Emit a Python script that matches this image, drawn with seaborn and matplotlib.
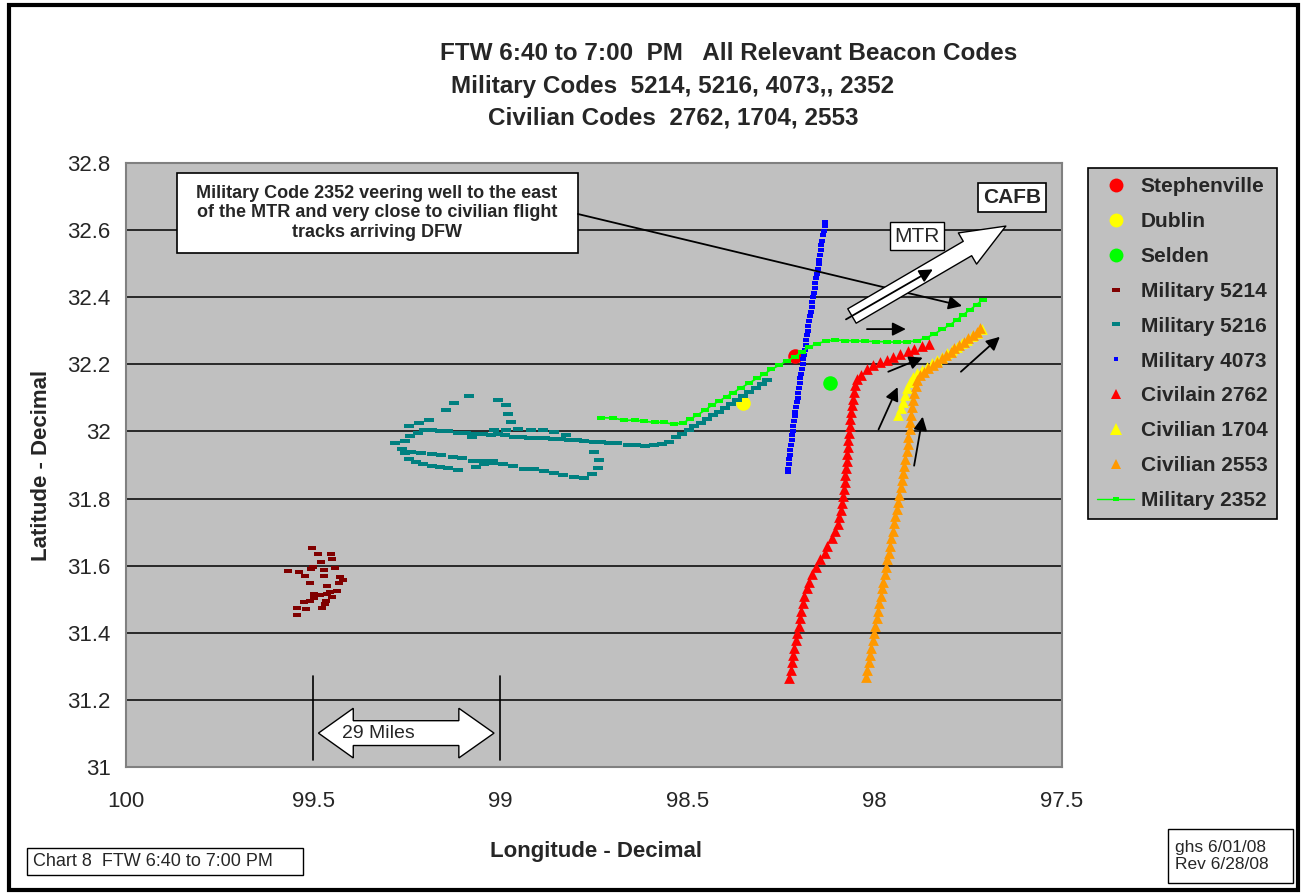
import matplotlib
matplotlib.use("Agg")
import matplotlib.pyplot as plt
import seaborn as sns
from matplotlib.markers import MarkerStyle
from matplotlib.lines import Line2D
from matplotlib.patches import Rectangle, Polygon

sns.set_style("white")
plt.rcParams["font.family"] = ["Liberation Sans", "DejaVu Sans"]

# ---- data (longitude W, latitude N) ----
town_names = ["Stephenville", "Dublin", "Selden"]
town_lon = [98.213, 98.352, 98.120]
town_lat = [32.224, 32.085, 32.144]

mil5214_lon = [99.504, 99.486, 99.453, 99.450, 99.478, 99.501, 99.505, 99.441, 99.567, 99.537, 99.471,
               99.522, 99.471, 99.429, 99.420, 99.509, 99.431, 99.464, 99.436, 99.455, 99.498, 99.482,
               99.464, 99.451, 99.498, 99.467, 99.509, 99.525, 99.468, 99.477, 99.542, 99.518, 99.543]
mil5214_lat = [31.652, 31.635, 31.634, 31.620, 31.610, 31.597, 31.589, 31.593, 31.583, 31.582, 31.587,
               31.569, 31.569, 31.566, 31.558, 31.548, 31.548, 31.539, 31.525, 31.522, 31.517, 31.514,
               31.516, 31.506, 31.503, 31.495, 31.496, 31.491, 31.486, 31.473, 31.473, 31.471, 31.454]

mil5216_lon = [98.289, 98.302, 98.318, 98.336, 98.352, 98.368, 98.384, 98.399, 98.416, 98.432, 98.449,
               98.465, 98.483, 98.497, 98.514, 98.531, 98.549, 98.569, 98.591, 98.613, 98.638, 98.660,
               98.688, 98.709, 98.732, 98.751, 98.776, 98.795, 98.817, 98.838, 98.859, 98.881, 98.902,
               98.924, 98.942, 98.964, 98.988, 99.006, 99.026, 99.077, 99.221, 99.241, 99.256, 99.281,
               99.264, 99.255, 99.244, 99.225, 99.207, 99.183, 99.161, 99.141, 99.114, 99.066, 99.045,
               99.021, 98.992, 98.967, 98.936, 98.911, 98.884, 98.858, 98.834, 98.804, 98.778, 98.755,
               98.739, 98.736, 98.749, 99.239, 99.211, 99.183, 99.158, 99.127, 99.102, 99.072, 99.047,
               99.019, 98.824, 98.856, 98.887, 98.917, 98.952, 98.985, 99.018, 99.047, 99.071, 99.093,
               99.114, 99.139, 99.161, 99.183, 99.205, 99.245, 99.218, 99.191, 99.145, 99.125, 99.084,
               99.006, 98.985, 98.979, 98.973]
mil5216_lat = [32.154, 32.141, 32.130, 32.118, 32.107, 32.093, 32.082, 32.069, 32.058, 32.048, 32.036,
               32.026, 32.017, 32.004, 31.993, 31.983, 31.970, 31.962, 31.959, 31.957, 31.960, 31.960,
               31.965, 31.967, 31.969, 31.969, 31.972, 31.975, 31.974, 31.978, 31.977, 31.980, 31.980,
               31.981, 31.984, 31.983, 31.989, 31.992, 31.990, 31.983, 31.996, 31.987, 31.973, 31.965,
               31.947, 31.935, 31.918, 31.908, 31.902, 31.897, 31.894, 31.892, 31.886, 31.893, 31.903,
               31.907, 31.902, 31.897, 31.889, 31.888, 31.882, 31.876, 31.871, 31.864, 31.862, 31.872,
               31.890, 31.915, 31.938, 31.940, 31.937, 31.934, 31.929, 31.925, 31.921, 31.913, 31.912,
               31.913, 31.989, 31.998, 32.004, 32.005, 32.008, 32.005, 32.004, 31.993, 31.992, 31.996,
               31.996, 32.000, 32.001, 32.005, 32.004, 32.016, 32.025, 32.035, 32.065, 32.086, 32.106,
               32.093, 32.078, 32.053, 32.028]

mil4073_lon = [98.132, 98.134, 98.136, 98.139, 98.140, 98.143, 98.144, 98.146, 98.149, 98.150, 98.153,
               98.155, 98.156, 98.159, 98.161, 98.162, 98.165, 98.167, 98.168, 98.171, 98.174, 98.175,
               98.178, 98.179, 98.182, 98.183, 98.185, 98.186, 98.189, 98.192, 98.193, 98.195, 98.197,
               98.199, 98.200, 98.203, 98.205, 98.206, 98.209, 98.210, 98.213, 98.214, 98.217, 98.218,
               98.219, 98.222, 98.222, 98.224, 98.226, 98.226, 98.229, 98.230, 98.232, 98.233]
mil4073_lat = [32.625, 32.611, 32.598, 32.584, 32.569, 32.556, 32.540, 32.527, 32.512, 32.499, 32.484,
               32.470, 32.456, 32.441, 32.428, 32.414, 32.400, 32.385, 32.371, 32.357, 32.343, 32.329,
               32.315, 32.300, 32.286, 32.272, 32.258, 32.243, 32.229, 32.215, 32.201, 32.187, 32.172,
               32.158, 32.144, 32.130, 32.116, 32.101, 32.087, 32.073, 32.059, 32.045, 32.030, 32.016,
               32.002, 31.988, 31.974, 31.960, 31.945, 31.931, 31.917, 31.903, 31.889, 31.880]

civ2762_lon = [98.229, 98.224, 98.220, 98.218, 98.215, 98.211, 98.207, 98.203, 98.200, 98.196, 98.193,
               98.189, 98.182, 98.175, 98.169, 98.157, 98.146, 98.133, 98.127, 98.115, 98.106, 98.099,
               98.095, 98.090, 98.087, 98.084, 98.082, 98.080, 98.079, 98.077, 98.075, 98.073, 98.072,
               98.071, 98.069, 98.067, 98.065, 98.064, 98.061, 98.058, 98.056, 98.052, 98.047, 98.037,
               98.022, 98.004, 97.986, 97.968, 97.951, 97.932, 97.912, 97.895, 97.875, 97.855]
civ2762_lat = [31.265, 31.289, 31.314, 31.334, 31.356, 31.379, 31.400, 31.420, 31.443, 31.465, 31.488,
               31.510, 31.533, 31.552, 31.574, 31.597, 31.619, 31.639, 31.660, 31.682, 31.704, 31.723,
               31.744, 31.766, 31.786, 31.808, 31.828, 31.849, 31.869, 31.890, 31.912, 31.932, 31.953,
               31.975, 31.995, 32.016, 32.036, 32.058, 32.078, 32.098, 32.119, 32.139, 32.155, 32.168,
               32.185, 32.197, 32.206, 32.213, 32.221, 32.230, 32.240, 32.246, 32.255, 32.261]

civ1704_lon = [97.937, 97.931, 97.926, 97.919, 97.913, 97.906, 97.897, 97.887, 97.875, 97.861, 97.848,
               97.835, 97.821, 97.808, 97.795, 97.781, 97.768, 97.755, 97.741, 97.728, 97.715]
civ1704_lat = [32.049, 32.069, 32.089, 32.109, 32.129, 32.148, 32.163, 32.173, 32.183, 32.193, 32.203,
               32.213, 32.223, 32.233, 32.243, 32.253, 32.263, 32.273, 32.284, 32.294, 32.305]

civ2553_lon = [98.024, 98.020, 98.016, 98.013, 98.009, 98.006, 98.002, 97.999, 97.995, 97.992, 97.988,
               97.984, 97.981, 97.977, 97.974, 97.970, 97.967, 97.963, 97.959, 97.956, 97.952, 97.949,
               97.945, 97.942, 97.938, 97.935, 97.931, 97.927, 97.924, 97.921, 97.919, 97.915, 97.912,
               97.910, 97.907, 97.905, 97.903, 97.900, 97.897, 97.895, 97.891, 97.887, 97.879, 97.869,
               97.857, 97.845, 97.833, 97.821, 97.810, 97.797, 97.788, 97.774, 97.762, 97.750, 97.739,
               97.728, 97.719]
civ2553_lat = [31.267, 31.289, 31.314, 31.334, 31.356, 31.379, 31.400, 31.420, 31.443, 31.465, 31.488,
               31.510, 31.533, 31.552, 31.574, 31.597, 31.619, 31.639, 31.660, 31.682, 31.704, 31.726,
               31.748, 31.768, 31.790, 31.812, 31.834, 31.855, 31.875, 31.897, 31.919, 31.941, 31.963,
               31.984, 32.006, 32.028, 32.050, 32.072, 32.094, 32.116, 32.136, 32.153, 32.167, 32.178,
               32.188, 32.198, 32.208, 32.218, 32.228, 32.238, 32.248, 32.258, 32.268, 32.278, 32.287,
               32.297, 32.307]

mil2352_lon = [98.731, 98.698, 98.669, 98.641, 98.616, 98.587, 98.563, 98.536, 98.513, 98.494, 98.474,
               98.454, 98.435, 98.415, 98.396, 98.378, 98.357, 98.336, 98.315, 98.297, 98.276, 98.256,
               98.235, 98.213, 98.195, 98.175, 98.154, 98.130, 98.107, 98.080, 98.053, 98.026, 97.997,
               97.968, 97.942, 97.915, 97.888, 97.864, 97.842, 97.820, 97.799, 97.781, 97.764, 97.746,
               97.728, 97.712]
mil2352_lat = [32.041, 32.040, 32.033, 32.034, 32.030, 32.027, 32.027, 32.021, 32.026, 32.036, 32.049,
               32.063, 32.078, 32.091, 32.104, 32.116, 32.130, 32.144, 32.158, 32.170, 32.185, 32.197,
               32.210, 32.223, 32.237, 32.251, 32.262, 32.269, 32.273, 32.271, 32.270, 32.269, 32.268,
               32.267, 32.266, 32.267, 32.270, 32.278, 32.290, 32.304, 32.318, 32.332, 32.348, 32.362,
               32.378, 32.392]

x_ticks = [100, 99.5, 99, 98.5, 98, 97.5]
x_labels = ["100", "99.5", "99", "98.5", "98", "97.5"]
y_ticks = [31, 31.2, 31.4, 31.6, 31.8, 32, 32.2, 32.4, 32.6, 32.8]
y_labels = ["31", "31.2", "31.4", "31.6", "31.8", "32", "32.2", "32.4", "32.6", "32.8"]

# ---- figure ----
W, H = 1303, 893
fig = plt.figure(figsize=(W / 100, H / 100), dpi=100)
ax = fig.add_axes([126 / W, 1 - 767 / H, (1062 - 126) / W, (767 - 163) / H])
ax.set_facecolor("#C0C0C0")

dash = MarkerStyle([(-1, -0.45), (1, -0.45), (1, 0.45), (-1, 0.45), (-1, -0.45)])
dot = MarkerStyle([(-1, -0.75), (1, -0.75), (1, 0.75), (-1, 0.75), (-1, -0.75)])

town_colors = ["#FF0000", "#FFFF00", "#00FF00"]
for lon, lat, c in zip(town_lon, town_lat, town_colors):
    sns.scatterplot(x=[lon], y=[lat], ax=ax, color=c, s=110, marker="o", linewidth=0, zorder=3)

sns.scatterplot(x=mil5214_lon, y=mil5214_lat, ax=ax, color="#800000", marker=dash, s=40, linewidth=0, zorder=3)
sns.scatterplot(x=mil5216_lon, y=mil5216_lat, ax=ax, color="#008080", marker=dash, s=42, linewidth=0, zorder=3)
sns.scatterplot(x=mil4073_lon, y=mil4073_lat, ax=ax, color="#0000FF", marker=dot, s=20, linewidth=0, zorder=3)
sns.scatterplot(x=civ2762_lon, y=civ2762_lat, ax=ax, color="#FF0000", marker="^", s=60, linewidth=0, zorder=3)
sns.scatterplot(x=civ1704_lon, y=civ1704_lat, ax=ax, color="#FFFF00", marker="^", s=60, linewidth=0, zorder=3)
sns.scatterplot(x=civ2553_lon, y=civ2553_lat, ax=ax, color="#FF9900", marker="^", s=60, linewidth=0, zorder=3)
sns.lineplot(x=mil2352_lon, y=mil2352_lat, ax=ax, sort=False, estimator=None, color="#00FF00", lw=1.2,
             marker=dash, markersize=6, markeredgewidth=0, zorder=3)

ax.set_xlim(100, 97.5)
ax.set_ylim(31, 32.8)
ax.set_xticks(x_ticks, x_labels)
ax.set_yticks(y_ticks, y_labels)
ax.set_xlabel("")
ax.set_ylabel("")
ax.yaxis.grid(True, color="black", lw=1.1)
ax.xaxis.grid(False)
ax.set_axisbelow(True)
for s in ax.spines.values():
    s.set_color("#808080")
    s.set_linewidth(1.5)
ax.tick_params(axis="both", direction="out", length=6, width=1, color="black", labelsize=16)
ax.tick_params(axis="x", pad=11)
ax.tick_params(axis="y", pad=5)

# ---- annotations ----
ax.add_patch(Rectangle((98.793, 32.532), 1.071, 0.238, fc="white", ec="black", lw=1.2, zorder=5))
ax.text(99.330, 32.651, "Military Code 2352 veering well to the east\nof the MTR and very close to civilian flight\ntracks arriving DFW",
        ha="center", va="center", fontsize=13, fontweight="bold", linespacing=1.2, zorder=6)
ax.annotate("", xy=(97.767, 32.374), xytext=(98.793, 32.648),
            arrowprops=dict(arrowstyle="-|>", color="black", lw=1.3, mutation_scale=20, shrinkA=0, shrinkB=0), zorder=6)

# MTR block arrow
ax.annotate("", xy=(97.650, 32.612), xytext=(98.061, 32.344),
            arrowprops=dict(arrowstyle="simple,head_length=3.2,head_width=2.6,tail_width=1.2",
                            fc="white", ec="black", lw=1, mutation_scale=10, shrinkA=0, shrinkB=0), zorder=6)
small_arrows = [((98.077, 32.334), (97.845, 32.483)),
                ((98.021, 32.305), (97.917, 32.305)),
                ((97.964, 32.178), (97.872, 32.220)),
                ((97.990, 32.006), (97.939, 32.132)),
                ((97.895, 31.898), (97.872, 32.044)),
                ((97.770, 32.178), (97.666, 32.282))]
for start, end in small_arrows:
    ax.annotate("", xy=end, xytext=start,
                arrowprops=dict(arrowstyle="-|>", color="black", lw=1.3, mutation_scale=20, shrinkA=0, shrinkB=0),
                zorder=7)

ax.text(97.888, 32.582, "MTR", ha="center", va="center", fontsize=15, zorder=7,
        bbox=dict(boxstyle="square,pad=0.2", fc="white", ec="black", lw=1))
ax.text(97.633, 32.697, "CAFB", ha="center", va="center", fontsize=15, fontweight="bold", zorder=7,
        bbox=dict(boxstyle="square,pad=0.25", fc="white", ec="black", lw=1.2))

# 29 miles scale
for xv in [99.5, 99.0]:
    ax.plot([xv, xv], [31.021, 31.271], color="black", lw=1.2, zorder=5)
ax.add_patch(Polygon([(99.486, 31.101), (99.393, 31.175), (99.393, 31.138), (99.111, 31.138),
                      (99.111, 31.175), (99.017, 31.101), (99.111, 31.027), (99.111, 31.064),
                      (99.393, 31.064), (99.393, 31.027)], closed=True, fc="white", ec="black", lw=1, zorder=6))
ax.text(99.327, 31.101, "29 Miles", ha="center", va="center", fontsize=14, zorder=7)

# ---- legend ----
handles = [
    Line2D([], [], ls="none", marker="o", ms=10, color="#FF0000", mew=0),
    Line2D([], [], ls="none", marker="o", ms=10, color="#FFFF00", mew=0),
    Line2D([], [], ls="none", marker="o", ms=10, color="#00FF00", mew=0),
    Line2D([], [], ls="none", marker=dash, ms=6, color="#800000", mew=0),
    Line2D([], [], ls="none", marker=dash, ms=6, color="#008080", mew=0),
    Line2D([], [], ls="none", marker=dot, ms=3.5, color="#0000FF", mew=0),
    Line2D([], [], ls="none", marker="^", ms=7, color="#FF0000", mew=0),
    Line2D([], [], ls="none", marker="^", ms=8, color="#FFFF00", mew=0),
    Line2D([], [], ls="none", marker="^", ms=7, color="#FF9900", mew=0),
    Line2D([], [], ls="-", lw=1, marker=dash, ms=5, color="#00FF00", mew=0),
]
labels = town_names + ["Military 5214", "Military 5216", "Military 4073", "Civilain 2762",
                       "Civilian 1704", "Civilian 2553", "Military 2352"]
leg = ax.legend(handles, labels, loc="upper left", bbox_to_anchor=(1088 / W, 1 - 168 / H),
                bbox_transform=fig.transFigure, frameon=True, fancybox=False, facecolor="#C0C0C0",
                edgecolor="black", framealpha=1, borderaxespad=0, borderpad=0.45, handlelength=1.75,
                handletextpad=0.33, labelspacing=0.76, prop=dict(size=15, weight="bold"))
leg.get_frame().set_linewidth(1.2)

# ---- titles and labels ----
fig.text(729 / W, 1 - 54 / H, "FTW 6:40 to 7:00  PM   All Relevant Beacon Codes", ha="center", va="center",
         fontsize=17.5, fontweight="bold")
fig.text(673 / W, 1 - 86 / H, "Military Codes  5214, 5216, 4073,, 2352", ha="center", va="center",
         fontsize=17.5, fontweight="bold")
fig.text(673 / W, 1 - 118 / H, "Civilian Codes  2762, 1704, 2553", ha="center", va="center",
         fontsize=17.5, fontweight="bold")
fig.text(596 / W, 1 - 852 / H, "Longitude - Decimal", ha="center", va="center", fontsize=16, fontweight="bold")
fig.text(42 / W, 1 - 465 / H, "Latitude - Decimal", ha="center", va="center", rotation=90,
         fontsize=16, fontweight="bold")

fig.text(33 / W, 1 - 861 / H, "Chart 8  FTW 6:40 to 7:00 PM", ha="left", va="center", fontsize=13)
fig.patches.append(Rectangle((27 / W, 1 - 875 / H), 276 / W, 27 / H, transform=fig.transFigure,
                             fill=False, ec="black", lw=1))
fig.text(1175 / W, 1 - 856 / H, "ghs 6/01/08\nRev 6/28/08", ha="left", va="center", fontsize=12.5, linespacing=1.1)
fig.patches.append(Rectangle((1168 / W, 1 - 883 / H), 125 / W, 54 / H, transform=fig.transFigure,
                             fill=False, ec="black", lw=1))
# outer chart border
fig.patches.append(Rectangle((9 / W, 1 - 890 / H), 1289 / W, 885 / H, transform=fig.transFigure,
                             fill=False, ec="black", lw=3))

fig.savefig("out.png", dpi=100, facecolor="white")
